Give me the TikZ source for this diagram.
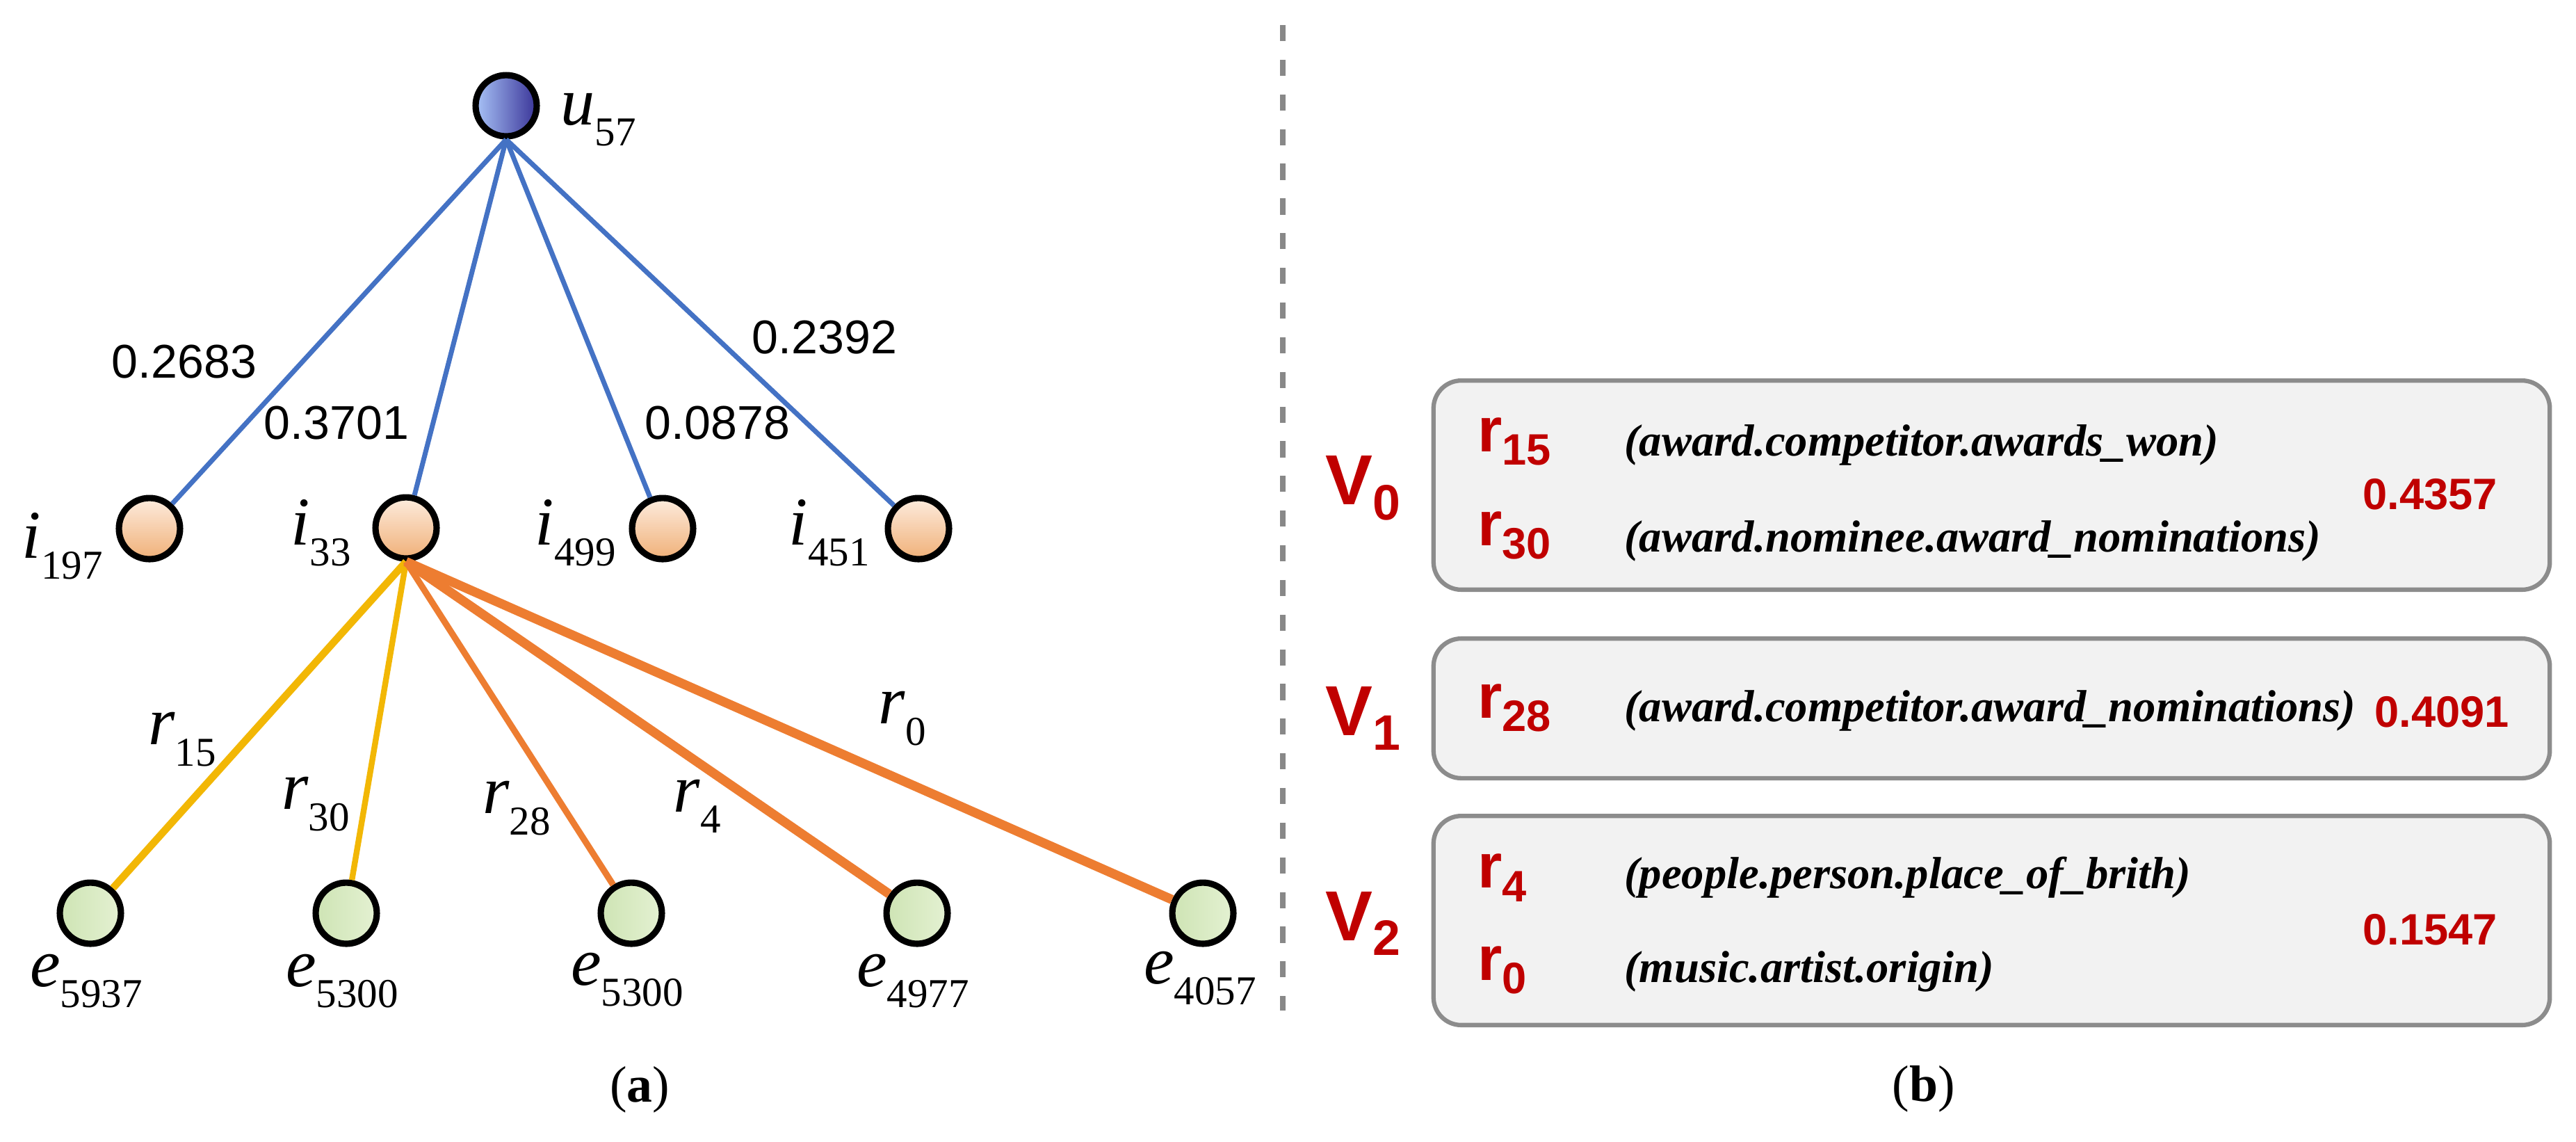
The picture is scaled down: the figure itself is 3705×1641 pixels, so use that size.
\documentclass[tikz,border=0pt]{standalone}
\usepackage{fontspec}
\setmainfont{Liberation Serif}
\setsansfont{Liberation Sans}
\usepackage{tikz}
\usetikzlibrary{arrows,shapes}
\definecolor{userblue}{RGB}{68,114,196}
\definecolor{userlight}{RGB}{168,195,247}
\definecolor{userdark}{RGB}{58,52,152}
\definecolor{itemlight}{RGB}{253,236,222}
\definecolor{itemdark}{RGB}{240,176,120}
\definecolor{entlight}{RGB}{228,241,210}
\definecolor{entdark}{RGB}{206,228,180}
\definecolor{relgold}{RGB}{242,183,5}
\definecolor{relorange}{RGB}{237,125,49}
\definecolor{tagred}{RGB}{192,0,0}
\definecolor{boxfill}{RGB}{242,242,242}
\definecolor{boxgray}{RGB}{140,140,140}
\definecolor{sepgray}{RGB}{136,136,136}
\tikzstyle{vertex}=[circle,draw=black,line width=1.3pt,minimum size=0.44cm,inner sep=0pt]
\tikzstyle{user vertex} = [vertex, left color=userlight, right color=userdark]
\tikzstyle{item vertex} = [vertex, top color=itemlight, bottom color=itemdark]
\tikzstyle{entity vertex} = [vertex, left color=entdark, right color=entlight]
\tikzstyle{edge} = [draw,line width=1pt,userblue]
\tikzstyle{gold edge} = [draw,relgold]
\tikzstyle{orange edge} = [draw,relorange]
\tikzstyle{vlabel} = [inner sep=0pt,font=\fontsize{14}{14}\selectfont]
\tikzstyle{weight} = [inner sep=0pt,font=\sffamily\fontsize{9.7}{10}\selectfont]
\tikzstyle{group box} = [draw=boxgray,fill=boxfill,line width=0.9pt,rounded corners=0.2cm,minimum width=8.035cm]
\tikzstyle{tag} = [inner sep=0pt,text=tagred,font=\sffamily\bfseries]
\tikzstyle{relname} = [inner sep=0pt,anchor=west,font=\bfseries\itshape\fontsize{9.2}{10}\selectfont]
\tikzstyle{caption} = [inner sep=0pt,font=\fontsize{10.5}{11}\selectfont]
\newcommand{\sublab}[2]{\textit{#1}\raisebox{-4.3pt}{\fontsize{8.4}{9}\selectfont #2}}
\newcommand{\vtag}[1]{{\fontsize{14.5}{15}\selectfont V\raisebox{-3.1pt}{\fontsize{10.2}{11}\selectfont #1}}}
\newcommand{\rtag}[1]{{\fontsize{12.9}{13}\selectfont r\raisebox{-2.8pt}{\fontsize{9}{10}\selectfont #1}}}

\begin{document}
\begin{tikzpicture}[x=0.005cm,y=-0.005cm]
    \useasboundingbox (0,0) rectangle (3705,1641);
    % (a) the user, items and entities
    \node[user vertex] (u57) at (728,152) {};
    \foreach \pos/\name in {{(215,760)/i197},{(584,759)/i33},{(953,760)/i499},{(1321,760)/i451}}
        \node[item vertex] (\name) at \pos {};
    \foreach \pos/\name in {{(130,1313)/e5937},{(498,1313)/e5300a},{(908,1313)/e5300b},{(1319,1313)/e4977},{(1730,1313)/e4057}}
        \node[entity vertex] (\name) at \pos {};

    % names of the vertices
    \node[vlabel,anchor=base west] (lu57) at (805,179) {\sublab{u}{57}};
    \foreach \pos/\name/\sub in {{(149,802)/i197/197},{(506,783)/i33/33},{(887,783)/i499/499},{(1252,783)/i451/451}}
        \node[vlabel,anchor=base east] (l\name) at \pos {\sublab{i}{\sub}};
    \foreach \pos/\name/\sub in {{(124,1418)/e5937/5937},{(492,1418)/e5300a/5300},{(902,1416)/e5300b/5300},{(1313,1418)/e4977/4977},{(1726,1414)/e4057/4057}}
        \node[vlabel,anchor=base] (l\name) at \pos {\sublab{e}{\sub}};

    % user - item edges with weights
    \foreach \dest in {i197,i33,i499,i451}
        \path[edge] (u57.south) -- (\dest);
    \foreach \pos/\name/\val in {{(265,520)/w197/0.2683},{(484,608)/w33/0.3701},{(1032,608)/w499/0.0878},{(1186,485)/w451/0.2392}}
        \node[weight] (\name) at \pos {\val};

    % item - entity edges with relations
    \path[gold edge,line width=1.5pt] (i33.south) -- (e5937);
    \path[gold edge,line width=1.2pt] (i33.south) -- (e5300a);
    \path[orange edge,line width=1.3pt] (i33.south) -- (e5300b);
    \path[orange edge,line width=1.9pt] (i33.south) -- (e4977);
    \path[orange edge,line width=1.9pt] (i33.south) -- (e4057);
    \foreach \pos/\name/\sub in {{(262,1063)/r15/15},{(454,1156)/r30/30},{(743,1162)/r28/28},{(1003,1159)/r4/4},{(1298,1033)/r0/0}}
        \node[vlabel] (l\name) at \pos {\sublab{r}{\sub}};

    % separator
    \coordinate (septop) at (1845,36);
    \coordinate (sepbot) at (1845,1453);
    \draw[sepgray,line width=1.1pt,dash pattern=on 3.3pt off 3.8pt] (septop) -- (sepbot);

    % (b) groups of relations
    \node[group box,minimum height=1.505cm] (box0) at (2864.5,697.5) {};
    \node[group box,minimum height=1.005cm] (box1) at (2864.5,1018.5) {};
    \node[group box,minimum height=1.505cm] (box2) at (2864.5,1323.5) {};
    \foreach \pos/\name/\sub in {{(1960,702)/V0/0},{(1960,1033)/V1/1},{(1960,1328)/V2/2}}
        \node[tag] (\name) at \pos {\vtag{\sub}};
    \foreach \pos/\name/\sub in {{(2124,635)/R15/15},{(2124,770)/R30/30},{(2124,1018)/R28/28},{(2124,1262)/R4/4},{(2124,1395)/R0/0}}
        \node[tag,anchor=west] (\name) at \pos {\rtag{\sub}};
    \node[relname] (d15) at (2335,640) {(award.competitor.awards\_won)};
    \node[relname] (d30) at (2335,778) {(award.nominee.award\_nominations)};
    \node[relname] (d28) at (2335,1022) {(award.competitor.award\_nominations)};
    \node[relname] (d4) at (2335,1262) {(people.person.place\_of\_brith)};
    \node[relname] (d0) at (2335,1397) {(music.artist.origin)};
    \foreach \pos/\name/\val in {{(3495,711)/s0/0.4357},{(3512,1024)/s1/0.4091},{(3495,1337)/s2/0.1547}}
        \node[tag,font=\sffamily\bfseries\fontsize{9}{10}\selectfont] (\name) at \pos {\val};

    % captions
    \node[caption] (capa) at (920,1567) {(\textbf{a})};
    \node[caption] (capb) at (2767,1566) {(\textbf{b})};
\end{tikzpicture}
\end{document}
